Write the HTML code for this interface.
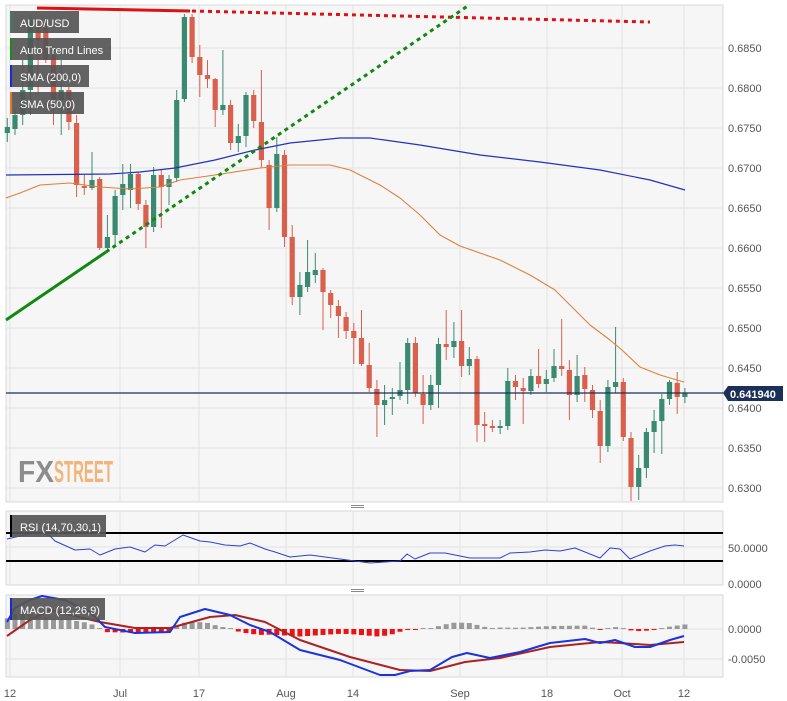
<!DOCTYPE html>
<html><head><meta charset="utf-8"><style>
body{margin:0;background:#fff;width:787px;height:701px;overflow:hidden;font-family:"Liberation Sans",sans-serif}
svg{position:absolute;left:0;top:0}
</style></head><body>
<svg id="s" width="787" height="701" xmlns="http://www.w3.org/2000/svg" font-family="Liberation Sans, sans-serif">
<rect x="6" y="5" width="717" height="497" fill="#f6f6f6" stroke="#d8d8d8"/>
<rect x="6" y="511" width="717" height="74" fill="#f6f6f6" stroke="#d8d8d8"/>
<rect x="6" y="595" width="717" height="82" fill="#f6f6f6" stroke="#d8d8d8"/>
<g id="grid" stroke="#e3e3e3" stroke-width="1"></g>
<g id="main"></g>
<text x="18" y="482" font-size="31" font-weight="bold" fill="#8c8c8c" textLength="36" lengthAdjust="spacingAndGlyphs">FX</text>
<text x="54" y="482" font-size="31" font-weight="bold" fill="#f2b47a" textLength="59" lengthAdjust="spacingAndGlyphs">STREET</text>
<g font-size="11" fill="#fff">
<rect x="10" y="11" width="69" height="22" fill="#555" opacity=".92"/><rect x="10" y="11" width="2" height="22" fill="#3d7a6a"/><text x="20" y="27">AUD/USD</text>
<rect x="10" y="38" width="101" height="22" fill="#555" opacity=".92"/><rect x="10" y="38" width="2" height="22" fill="#1a8a1a"/><text x="20" y="54">Auto Trend Lines</text>
<rect x="10" y="65" width="79" height="22" fill="#555" opacity=".92"/><rect x="10" y="65" width="2" height="22" fill="#1a2acc"/><text x="20" y="81">SMA (200,0)</text>
<rect x="10" y="92" width="74" height="22" fill="#555" opacity=".92"/><rect x="10" y="92" width="2" height="22" fill="#e07a30"/><text x="20" y="108">SMA (50,0)</text>
<rect x="10" y="515" width="96" height="22" fill="#555" opacity=".92"/><rect x="10" y="515" width="2" height="22" fill="#000"/><text x="20" y="531" textLength="81" lengthAdjust="spacingAndGlyphs">RSI (14,70,30,1)</text>
<rect x="10" y="598" width="95" height="22" fill="#555" opacity=".92"/><rect x="10" y="598" width="2" height="22" fill="#1a2acc"/><text x="20" y="614" textLength="80" lengthAdjust="spacingAndGlyphs">MACD (12,26,9)</text>
</g>
<g font-size="11" fill="#555" id="ax"></g>
<g stroke="#888" stroke-width="1"><line x1="351" y1="505.5" x2="364" y2="505.5"/><line x1="351" y1="507.5" x2="364" y2="507.5"/>
<line x1="351" y1="589.5" x2="364" y2="589.5"/><line x1="351" y1="591.5" x2="364" y2="591.5"/></g>
</svg>
<script>
const NS="http://www.w3.org/2000/svg";
function el(p,t,a,txt){const e=document.createElementNS(NS,t);for(const k in a)e.setAttribute(k,a[k]);if(txt!==undefined)e.textContent=txt;p.appendChild(e);return e;}
const g=document.getElementById('grid'),m=document.getElementById('main'),ax=document.getElementById('ax');
const xs=[10,120,199,286,353,460,547,622,684],xl=["12","Jul","17","Aug","14","Sep","18","Oct","12"];
xs.forEach((x,i)=>{[[5,502],[511,585],[595,677]].forEach(r=>el(g,'line',{x1:x,y1:r[0],x2:x,y2:r[1]}));
 el(ax,'text',{x:x,y:697,'text-anchor':'middle'},xl[i]);});
for(let i=0;i<12;i++){const y=48+i*40;el(g,'line',{x1:6,y1:y,x2:723,y2:y});
 el(ax,'text',{x:728,y:y+4},(0.6850-i*0.005).toFixed(4));}
[533,547,561].forEach(y=>el(g,'line',{x1:6,y1:y,x2:723,y2:y}));
[629,659].forEach(y=>el(g,'line',{x1:6,y1:y,x2:723,y2:y}));
el(ax,'text',{x:728,y:552},"50.0000");el(ax,'text',{x:728,y:588},"0.0000");
el(ax,'text',{x:728,y:633},"0.0000");el(ax,'text',{x:728,y:663},"-0.0050");
const C=[[133,127,118,142],[129,115,108,135],[115,90,60,125],[90,20,15,115],[25,40,20,95],[28,60,22,63],[55,100,50,125],[100,90,60,135],[90,122,85,130],[123,185,115,197],[186,188,175,195],[188,180,152,190],[179,248,177,250],[248,237,215,250],[235,196,190,245],[195,184,164,210],[190,174,164,208],[174,204,172,210],[205,227,200,248],[227,175,167,232],[175,187,170,228],[187,179,175,205],[178,100,90,182],[99,17,14,102],[17,57,14,63],[57,75,45,97],[75,79,60,88],[79,110,78,127],[110,105,50,115],[105,143,100,150],[143,136,124,152],[136,95,92,147],[95,121,90,128],[122,160,70,168],[165,208,160,230],[208,154,137,212],[155,237,150,247],[237,297,225,305],[297,285,272,315],[287,272,240,292],[275,270,253,283],[270,292,268,330],[293,305,290,318],[306,316,300,338],[317,331,312,339],[331,338,323,364],[338,364,310,366],[365,388,343,392],[389,405,380,437],[405,400,385,425],[399,397,388,415],[396,390,362,400],[390,343,338,404],[343,393,337,397],[394,405,375,424],[405,385,375,410],[385,344,338,408],[344,347,310,360],[347,341,322,358],[341,366,310,377],[366,359,347,375],[359,425,356,442],[424,424,412,442],[426,427,420,432],[427,426,420,434],[426,381,368,430],[381,387,375,400],[388,391,378,424],[391,376,369,395],[376,384,349,388],[384,379,370,392],[378,366,349,382],[366,369,319,376],[370,395,360,420],[395,376,355,402],[375,389,367,402],[390,410,385,418],[411,446,400,463],[446,387,380,452],[387,382,327,393],[382,437,378,441],[438,487,432,501],[487,468,455,500],[468,432,428,478],[432,421,410,453],[421,399,394,454],[399,382,380,405],[383,397,372,414],[397,393,388,403]];
const X0=7.3,DX=7.7;
C.forEach((c,i)=>{const x=X0+i*DX,up=c[1]<c[0],col=up?'#3a8a72':'#d9604c';
 el(m,'line',{x1:x,y1:c[2],x2:x,y2:c[3],stroke:col,'stroke-width':1});
 const t=Math.min(c[0],c[1]),h=Math.max(2,Math.abs(c[0]-c[1]));
 el(m,'rect',{x:x-2.6,y:t,width:5.2,height:h,fill:col});});
function pl(p,pts,st,w,extra){const a=Object.assign({points:pts.map(q=>q.join(',')).join(' '),fill:'none',stroke:st,'stroke-width':w,'stroke-linejoin':'round'},extra||{});return el(p,'polyline',a);}
pl(m,[[6,175],[110,174],[140,172],[175,168],[215,160],[255,150],[290,143],[340,138],[370,138],[420,145],[480,155],[540,162],[600,170],[650,180],[685,190]],'#2233bb',1.2);
pl(m,[[6,198],[20,193],[40,185],[70,183],[100,187],[130,189],[160,187],[180,180],[215,175],[260,168],[290,165],[330,165],[350,170],[380,185],[400,198],[420,215],[440,235],[460,246],[500,260],[530,275],[555,290],[570,305],[590,325],[610,340],[622,350],[640,367],[660,375],[684,382]],'#e0803a',1.1);
el(m,'line',{x1:37,y1:8,x2:190,y2:11,stroke:'#dd1111','stroke-width':3});
el(m,'line',{x1:192,y1:11,x2:650,y2:22,stroke:'#dd1111','stroke-width':3,'stroke-dasharray':'4,4'});
el(m,'line',{x1:6,y1:320,x2:106,y2:252,stroke:'#118811','stroke-width':3});
el(m,'line',{x1:106,y1:252,x2:469,y2:5,stroke:'#118811','stroke-width':3,'stroke-dasharray':'4,4'});
el(m,'line',{x1:6,y1:393,x2:723,y2:393,stroke:'#1c2f5a','stroke-width':1.2});
el(m,'path',{d:'M723,393 L728,386 L783,386 L783,401 L728,401 Z',fill:'#1c2f5a'});
el(m,'text',{x:730,y:398,'font-size':11,'font-weight':'bold',fill:'#fff'},"0.641940");
el(m,'line',{x1:6,y1:533,x2:723,y2:533,stroke:'#000','stroke-width':2});
el(m,'line',{x1:6,y1:561,x2:723,y2:561,stroke:'#000','stroke-width':2});
pl(m,[[7,539],[20,536],[40,532],[50,536],[55,541],[75,550],[90,549],[100,555],[115,549],[130,547],[145,552],[155,545],[165,546],[183,535],[200,541],[210,542],[225,545],[240,546],[250,543],[265,549],[275,552],[290,557],[310,555],[340,559],[370,563],[385,562],[400,561],[407,554],[415,559],[430,553],[445,553],[455,555],[470,558],[500,558],[510,553],[530,552],[545,550],[560,551],[575,548],[585,552],[600,558],[610,548],[620,549],[630,559],[640,555],[650,551],[665,546],[675,545],[684,546]],'#2a44cc',1);
const B=[[7,622],[15,608],[30,600],[42,596],[65,600],[90,612],[105,627],[135,633],[170,632],[180,617],[205,609],[230,615],[250,625],[270,632],[300,650],[340,660],[380,675],[395,675],[410,671],[430,670],[452,657],[467,653],[490,658],[520,652],[550,643],[585,639],[600,643],[615,640],[635,647],[650,647],[670,640],[684,636]];
const R=[[7,636],[30,620],[50,610],[100,622],[135,628],[170,628],[210,617],[235,615],[265,622],[300,640],[350,657],[400,670],[430,671],[465,662],[500,658],[550,647],[600,642],[620,643],[650,645],[684,642]];
function itp(P,x){for(let i=0;i<P.length-1;i++){if(x>=P[i][0]&&x<=P[i+1][0]){const t=(x-P[i][0])/(P[i+1][0]-P[i][0]);return P[i][1]+t*(P[i+1][1]-P[i][1]);}}return x<P[0][0]?P[0][1]:P[P.length-1][1];}
C.forEach((c,i)=>{const x=X0+i*DX;let d=(itp(R,x)-itp(B,x))*0.75;d=Math.max(-17,Math.min(15,d));
 if(Math.abs(d)<1)d=d<0?-1:1;
 el(m,'rect',{x:x-2.5,y:d>0?629-d:629,width:5,height:Math.abs(d),fill:d>0?'#999':'#ee1111'});});
pl(m,R,'#aa2222',2);
pl(m,B,'#1a33dd',2);
</script>
</body></html>
